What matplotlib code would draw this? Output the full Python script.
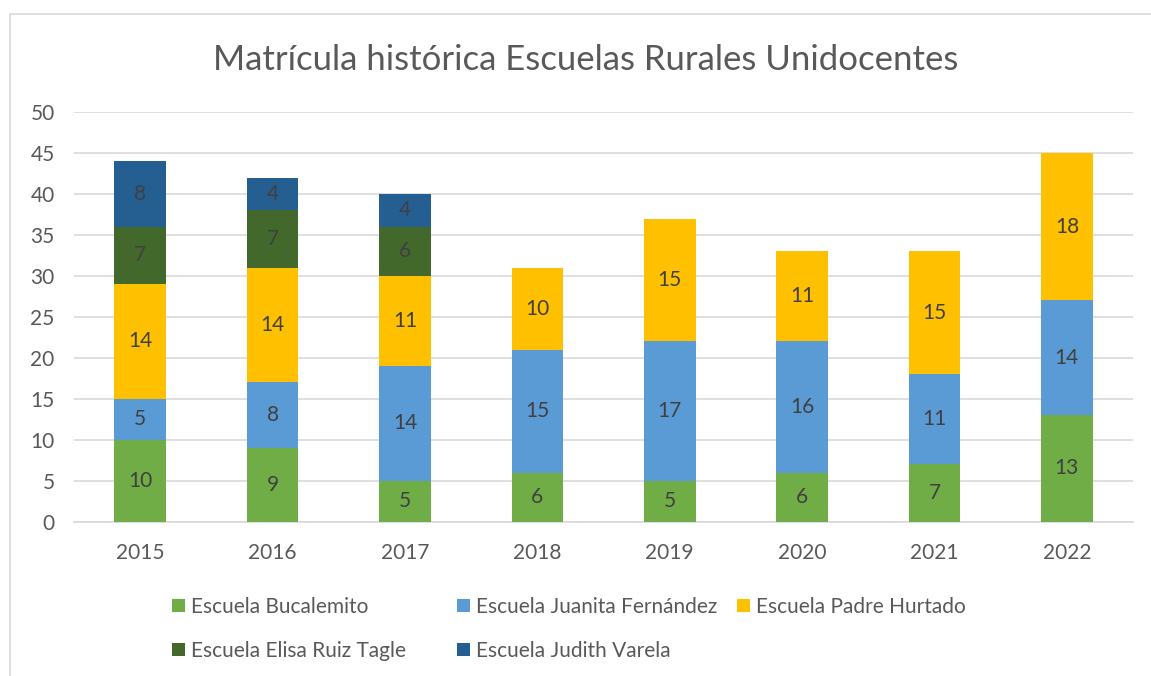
import numpy as np
import matplotlib
matplotlib.use("Agg")
import matplotlib.pyplot as plt
from matplotlib.patches import Rectangle

years = ["2015", "2016", "2017", "2018", "2019", "2020", "2021", "2022"]
bucalemito = [10, 9, 5, 6, 5, 6, 7, 13]
juanita = [5, 8, 14, 15, 17, 16, 11, 14]
padre_hurtado = [14, 14, 11, 10, 15, 11, 15, 18]
elisa_ruiz = [7, 7, 6, 0, 0, 0, 0, 0]
judith_varela = [8, 4, 4, 0, 0, 0, 0, 0]

series = [
    ("Escuela Bucalemito", bucalemito, "#70AD47"),
    ("Escuela Juanita Fernández", juanita, "#5B9BD5"),
    ("Escuela Padre Hurtado", padre_hurtado, "#FFC000"),
    ("Escuela Elisa Ruiz Tagle", elisa_ruiz, "#43682B"),
    ("Escuela Judith Varela", judith_varela, "#255E91"),
]

plt.rcParams['font.family'] = ['Lato', 'DejaVu Sans']
txt = "#595959"
W, H = 1151, 676

fig = plt.figure(figsize=(W / 100, H / 100), dpi=100)
ax = fig.add_axes([0.0643, 0.2283, 0.9201, 0.606])

# chart border (only top/left visible in the crop)
fig.patches.append(Rectangle((10 / W, -0.1), 1.2, 1.1 - 14 / H,
                             transform=fig.transFigure, fill=False,
                             edgecolor="#D9D9D9", linewidth=1.2))

x = np.arange(len(years))
bottom = np.zeros(len(years))
handles = {}
for name, vals, col in series:
    vals = np.array(vals, dtype=float)
    bars = ax.bar(x, vals, 0.39, bottom=bottom, color=col, label=name, zorder=3)
    handles[name] = bars
    for xi, b, v in zip(x, bottom, vals):
        if v > 0:
            ax.text(xi, b + v / 2, f"{int(v)}", ha="center", va="center",
                    fontsize=15, color="#404040", zorder=4)
    bottom += vals

ax.set_xlim(-0.5, len(years) - 0.5)
ax.set_ylim(0, 50)
ax.set_yticks(range(0, 51, 5))
ax.set_xticks(x)
ax.set_xticklabels(years)
ax.yaxis.grid(True, color="#D9D9D9", linewidth=1.2, zorder=0)
ax.set_axisbelow(True)
for s in ["top", "right", "left"]:
    ax.spines[s].set_visible(False)
ax.spines["bottom"].set_color("#D9D9D9")
ax.spines["bottom"].set_linewidth(1.2)
ax.tick_params(axis="both", length=0, labelsize=15, labelcolor=txt)
ax.tick_params(axis="x", pad=15)
ax.tick_params(axis="y", pad=14)

fig.text(0.509, 0.911, "Matrícula histórica Escuelas Rurales Unidocentes",
         ha="center", va="center", fontsize=25, color=txt)

# legend: three columns placed like the original
columns = [
    (172, ["Escuela Bucalemito", "Escuela Elisa Ruiz Tagle"]),
    (457, ["Escuela Juanita Fernández", "Escuela Judith Varela"]),
    (737, ["Escuela Padre Hurtado"]),
]
for xpix, names in columns:
    leg = fig.legend([handles[n] for n in names], names,
                     loc="upper left", bbox_to_anchor=(xpix / W, 1 - 597 / H),
                     frameon=False, fontsize=15, handlelength=0.6,
                     handleheight=0.6, handletextpad=0.3, borderpad=0,
                     borderaxespad=0, labelspacing=1.15)
    for t in leg.get_texts():
        t.set_color(txt)

fig.savefig("out.png", dpi=100)
